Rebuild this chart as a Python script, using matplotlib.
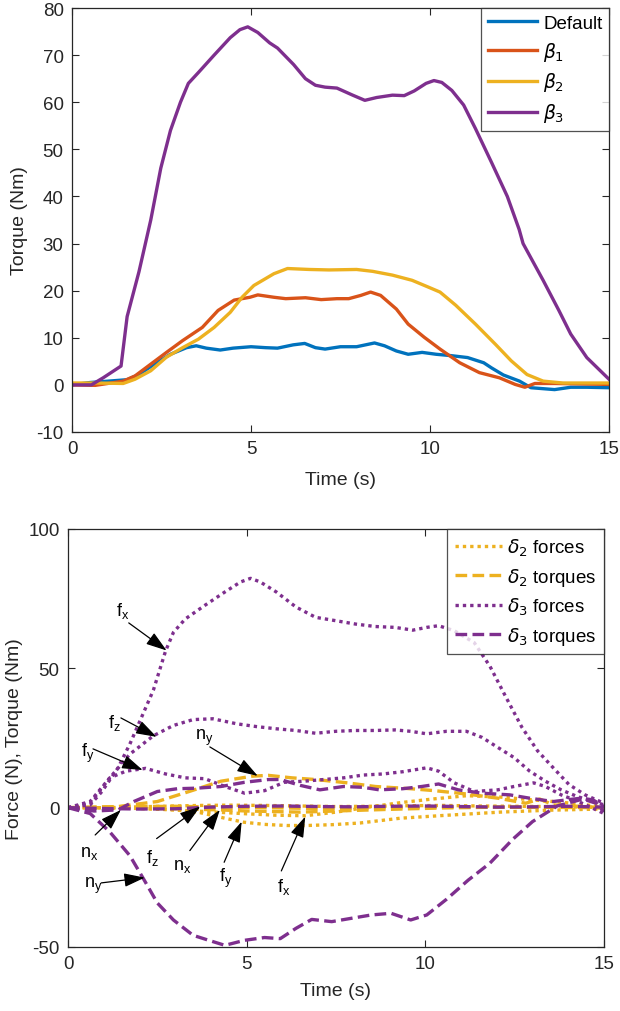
import numpy as np
import matplotlib
matplotlib.use("Agg")
import matplotlib.pyplot as plt

plt.rcParams['font.family'] = ['Liberation Sans', 'DejaVu Sans']
plt.rcParams['mathtext.fontset'] = 'dejavusans'
plt.rcParams['axes.unicode_minus'] = False

C_BLUE = '#0072BD'
C_RED = '#D95319'
C_YEL = '#EDB120'
C_PUR = '#7E2F8E'
TXT = '#262626'

# ---------------- top chart data ----------------
t_b3 = [0, 0.54, 0.87, 1.37, 1.54, 1.87, 2.2, 2.48, 2.75, 3.03, 3.25, 3.53, 3.97, 4.42, 4.69, 4.91,
        5.19, 5.52, 5.74, 6.19, 6.52, 6.8, 7.07, 7.4, 7.84, 8.18, 8.51, 8.95, 9.28, 9.56, 9.89,
        10.11, 10.33, 10.61, 10.94, 11.27, 11.72, 12.16, 12.49, 12.6, 13.16, 13.6, 13.93, 14.38, 15]
v_b3 = [0, 0, 1.5, 4, 14.5, 24, 35, 46, 54, 60, 64, 66.3, 70, 73.7, 75.4, 76,
        74.8, 72.6, 71.5, 68, 65, 63.6, 63.2, 63, 61.5, 60.4, 61, 61.5, 61.4, 62.4, 64,
        64.6, 64.2, 62.5, 59.4, 54.4, 47.2, 40, 33, 30, 22.2, 15.8, 10.8, 5.8, 1.2]

t_def = [0, 0.5, 1.54, 1.87, 2.3, 2.75, 3.2, 3.47, 3.75, 4.14, 4.5, 5.0, 5.41, 5.74, 6.18, 6.5,
         6.8, 7.07, 7.5, 7.95, 8.45, 8.73, 9.06, 9.39, 9.78, 10.17, 10.6, 11.05, 11.5, 11.72,
         12.05, 12.5, 12.82, 13.48, 13.93, 14.38, 15]
v_def = [0, 0.5, 1.1, 2.2, 4.4, 6.5, 7.9, 8.3, 7.8, 7.4, 7.8, 8.1, 7.9, 7.8, 8.5, 8.8,
         7.9, 7.6, 8.1, 8.1, 8.9, 8.3, 7.2, 6.5, 6.9, 6.5, 6.2, 5.8, 4.7, 3.6,
         2.1, 0.8, -0.6, -1.0, -0.5, -0.5, -0.6]

t_b1 = [0, 0.65, 1.43, 1.76, 2.2, 2.64, 3.09, 3.64, 4.08, 4.53, 4.97, 5.19, 5.64, 5.97, 6.52,
        6.96, 7.4, 7.73, 8.07, 8.34, 8.62, 9.06, 9.39, 9.84, 10.28, 10.83, 11.38, 11.94, 12.38,
        12.65, 12.93, 13.48, 15]
v_b1 = [0, -0.1, 0.8, 1.9, 4.4, 6.9, 9.4, 12.2, 15.8, 18, 18.6, 19.1, 18.6, 18.3, 18.5,
        18.1, 18.3, 18.3, 19, 19.7, 19, 16.1, 12.9, 10.1, 7.6, 4.7, 2.6, 1.5, 0.1,
        -0.5, 0.3, 0.3, 0.1]

t_b2 = [0, 0.65, 1.43, 1.76, 2.2, 2.64, 3.09, 3.53, 3.97, 4.42, 4.75, 5.08, 5.64, 6.02, 6.63,
        7.18, 7.95, 8.4, 8.95, 9.5, 9.94, 10.28, 10.72, 11.27, 11.83, 12.27, 12.71, 13.16,
        13.71, 15]
v_b2 = [0.4, 0.4, 0.3, 1.2, 3, 5.9, 7.9, 9.7, 12.2, 15.4, 18.6, 21.1, 23.6, 24.7, 24.5,
        24.4, 24.5, 24.1, 23.3, 22.2, 20.8, 19.7, 16.9, 12.9, 8.6, 5.1, 2.2, 0.8,
        0.4, 0.4]

top_labels = ['Default', r'$\beta_1$', r'$\beta_2$', r'$\beta_3$']

# ---------------- bottom chart data ----------------
# delta3 forces
t3_fx = [0, 0.62, 0.95, 1.4, 1.73, 2.06, 2.39, 2.73, 2.95, 3.28, 3.83, 4.39, 4.83, 5.11, 5.38,
         5.83, 6.38, 6.93, 7.49, 8.04, 8.6, 9.15, 9.65, 10.04, 10.37, 10.81, 11.37, 11.81,
         12.25, 12.7, 13.14, 13.58, 14.02, 14.47, 15]
v3_fx = [0, 1, 5.8, 14.3, 22.8, 32.5, 42.2, 56.2, 62.9, 67.7, 72.6, 77.4, 81, 82.3, 81,
         77.4, 72, 68.3, 67.1, 65.9, 65, 64.7, 63.7, 64.7, 65.3, 63.5, 59.2, 50.7,
         39.8, 28.9, 20.4, 14.3, 8.3, 4.6, 1.6]
t3_fz = [0, 0.62, 1.17, 1.73, 2.39, 2.95, 3.5, 4.05, 4.72, 5.27, 5.83, 6.38, 6.93, 7.49, 8.04,
         8.6, 9.15, 9.59, 10.04, 10.59, 11.15, 11.59, 12.03, 12.48, 12.92, 13.36, 13.8, 14.25, 15]
v3_fz = [0, 1.6, 10.7, 19.2, 25.8, 29.5, 31.6, 31.9, 30.1, 29.1, 28.3, 27.7, 26.7, 27.4, 27.7,
         27.7, 27.9, 27.4, 26.5, 27.4, 27.4, 25.2, 21.6, 18, 13.1, 9.5, 6.4, 4, 1]
t3_fy = [0, 0.62, 1.17, 1.62, 2.17, 2.73, 3.28, 3.83, 4.39, 4.94, 5.5, 6.05, 6.6, 7.16, 7.71,
         8.26, 8.82, 9.37, 10.04, 10.37, 10.81, 11.37, 12.03, 12.48, 13.03, 13.36, 13.8, 14.25, 15]
v3_fy = [0, 2.2, 10.7, 13.1, 14.1, 12.1, 10.7, 10.4, 7.6, 5.2, 6.1, 9.1, 9.5, 10.1, 10.7,
         11.7, 12.1, 12.9, 14.3, 13.1, 8.9, 5.8, 6.4, 7.6, 8.9, 7.6, 4.6, 2.4, -2.1]
# delta3 torques
t3_nx = [0, 0.73, 1.4, 1.84, 2.5, 3.06, 3.61, 4.28, 4.94, 5.61, 5.94, 6.5, 7.05, 7.71, 8.26,
         8.71, 9.37, 9.9, 10.37, 10.92, 11.59, 12.36, 12.92, 13.58, 14.02, 14.36, 14.69, 15]
v3_nx = [0, -1.2, -0.8, 2.2, 5.8, 6.8, 7, 7.6, 9.1, 10.1, 10.1, 8, 6.4, 7.6, 7.3,
         6.4, 6.8, 7.6, 8.5, 6.4, 5.2, 4.6, 3.4, 2.2, 2.9, 3.4, 2.8, 0.4]
t3_ny = [0, 0.62, 1.17, 1.73, 2.12, 2.5, 2.95, 3.5, 3.94, 4.39, 4.94, 5.5, 5.94, 6.38, 6.82,
         7.38, 7.93, 8.49, 9.04, 9.59, 10.04, 10.6, 11.2, 11.8, 12.45, 13.0, 13.69, 14.41, 14.8, 15]
v3_ny = [0, -2.1, -8.7, -17.2, -25.7, -34.2, -40.3, -45.8, -47.6, -49.4, -47.6, -46.6, -47, -43.3,
         -40.1, -40.9, -39.7, -38.5, -37.9, -40.3, -38.5, -32.8, -26, -20, -11.3, -5, 0.6, 3.1,
         1.5, -1.5]
t3_nz = [0, 1.0, 2.0, 3.0, 4.0, 5.0, 6.0, 7.0, 8.0, 9.0, 10.0, 11.0, 12.0, 13.0, 14.0, 15]
v3_nz = [0, -0.3, -0.5, -0.4, 0.2, 0.5, 0.6, 0.4, 0.3, 0.5, 0.6, 0.4, 0.2, 0.3, 0.5, 0.2]

# delta2 forces
t2_fx = [0, 1.0, 2.0, 3.0, 4.0, 5.0, 5.8, 6.64, 7.5, 8.36, 9.3, 10.2, 11.16, 12.1, 13.0, 13.77, 14.5, 15]
v2_fx = [0, 0, -0.3, -0.8, -1.5, -2.2, -2.7, -2.9, -1.6, 0.1, 1.8, 3.1, 4.3, 3.8, 2.8, 2.0, 1.0, 0.3]
t2_fy = [0, 1.0, 2.0, 3.0, 3.7, 4.25, 4.91, 5.5, 6.12, 6.68, 7.4, 8.17, 9.29, 10.5, 12.09, 13.5, 14.9, 15]
v2_fy = [0, 0, -0.2, -0.8, -1.8, -3.4, -5.2, -6.0, -6.4, -6.4, -6.1, -5.5, -3.8, -2.8, -1.6, -0.9, -0.5, -0.4]
t2_fz = [0, 1.0, 2.0, 3.0, 3.7, 4.5, 5.5, 6.5, 7.5, 8.5, 9.5, 10.5, 11.5, 12.5, 13.5, 14.5, 15]
v2_fz = [0, 0, 0.3, 0.6, 0.8, 0.9, 0.8, 0.6, 0.4, 0.5, 0.7, 0.8, 0.6, 0.5, 0.4, 0.2, 0]
# delta2 torques
t2_nx = [0, 1.0, 2.0, 3.0, 4.25, 5.0, 5.8, 6.49, 7.5, 8.5, 9.3, 10.5, 12.1, 13.5, 15]
v2_nx = [0, 0, -0.2, -0.4, -0.8, -1.2, -1.4, -1.6, -1.2, -0.8, -0.5, -0.1, 0.2, 0.1, 0]
t2_ny = [0, 1.4, 2.5, 3.39, 4.28, 5.16, 5.6, 6.27, 6.93, 7.82, 8.6, 9.59, 10.26, 11.16, 12.03,
         12.81, 13.2, 13.58, 15]
v2_ny = [0, 0.4, 2.2, 5.8, 9.5, 11.3, 11.6, 10.7, 10.1, 8.9, 7.6, 6.8, 6.1, 4.9, 3.4,
         1.6, 3.1, 1.0, 0]
t2_nz = [0, 1.0, 2.0, 3.0, 4.0, 5.0, 6.0, 7.0, 8.0, 9.0, 10.0, 11.0, 12.0, 13.0, 14.0, 15]
v2_nz = [0, 0.2, 0.4, 0.5, 0.3, 0.1, -0.1, -0.3, -0.2, 0.0, 0.2, 0.3, 0.2, 0.1, 0.2, 0]

bottom_labels = [r'$\delta_2$ forces', r'$\delta_2$ torques', r'$\delta_3$ forces', r'$\delta_3$ torques']

# annotations: base letter, subscript, text position, arrow start, arrow tip
ann_base = ['f', 'f', 'f', 'n', 'n', 'f', 'n', 'f', 'f', 'n']
ann_labels = ['x', 'z', 'y', 'y', 'x', 'z', 'x', 'y', 'x', 'y']
ann_text = [(1.54, 71.1), (1.31, 30.9), (0.54, 20.0), (3.81, 25.4), (0.59, -16.0),
            (2.37, -17.8), (3.2, -20.8), (4.42, -25.0), (6.03, -28.2), (0.7, -27.6)]
ann_from = [(1.7, 66.3), (1.48, 32.2), (0.7, 21.1), (3.97, 21.8), (0.76, -9.8),
            (2.48, -11.1), (3.41, -15.4), (4.37, -19.6), (5.97, -22.7), (0.93, -27.0)]
ann_tip = [(2.76, 56.4), (2.48, 25.4), (2.09, 13.5), (5.31, 11.4), (1.48, -0.8),
           (3.7, 0.4), (4.25, -0.8), (4.86, -5.0), (6.64, -3.2), (2.15, -25.1)]

fig = plt.figure(figsize=(6.2, 10.12), dpi=100)
W, H = 620.0, 1012.0
ax1 = fig.add_axes([72 / W, 1 - 433 / H, (609 - 72) / W, (433 - 9) / H])
ax2 = fig.add_axes([68 / W, 1 - 948 / H, (604 - 68) / W, (948 - 530) / H])

lw = 2.4
ax1.plot(t_def, v_def, color=C_BLUE, lw=lw, label=top_labels[0])
ax1.plot(t_b1, v_b1, color=C_RED, lw=lw, label=top_labels[1])
ax1.plot(t_b2, v_b2, color=C_YEL, lw=lw, label=top_labels[2])
ax1.plot(t_b3, v_b3, color=C_PUR, lw=lw, label=top_labels[3])
ax1.set_xlim(0, 15)
ax1.set_ylim(-10, 80)
ax1.set_xticks([0, 5, 10, 15])
ax1.set_yticks(np.arange(-10, 81, 10))
ax1.set_xlabel('Time (s)', fontsize=14, color=TXT, labelpad=10)
ax1.set_ylabel('Torque (Nm)', fontsize=14, color=TXT, labelpad=6)
leg1 = ax1.legend(loc='upper right', fontsize=13.5, frameon=True, fancybox=False,
                  edgecolor=TXT, handlelength=2.6, handletextpad=0.35, borderpad=0.35,
                  borderaxespad=0, labelspacing=0.42)
leg1.get_frame().set_linewidth(0.9)

dot = (0, (1, 1.2))
dash = (0, (3.5, 1.6))
lw2 = 2.4
ax2.plot(t2_fx, v2_fx, color=C_YEL, lw=lw2, ls=dot, label=bottom_labels[0])
ax2.plot(t2_fy, v2_fy, color=C_YEL, lw=lw2, ls=dot)
ax2.plot(t2_fz, v2_fz, color=C_YEL, lw=lw2, ls=dot)
ax2.plot(t2_nx, v2_nx, color=C_YEL, lw=lw2, ls=dash, label=bottom_labels[1])
ax2.plot(t2_ny, v2_ny, color=C_YEL, lw=lw2, ls=dash)
ax2.plot(t2_nz, v2_nz, color=C_YEL, lw=lw2, ls=dash)
ax2.plot(t3_fx, v3_fx, color=C_PUR, lw=lw2, ls=dot, label=bottom_labels[2])
ax2.plot(t3_fy, v3_fy, color=C_PUR, lw=lw2, ls=dot)
ax2.plot(t3_fz, v3_fz, color=C_PUR, lw=lw2, ls=dot)
ax2.plot(t3_nx, v3_nx, color=C_PUR, lw=lw2, ls=dash, label=bottom_labels[3])
ax2.plot(t3_ny, v3_ny, color=C_PUR, lw=lw2, ls=dash)
ax2.plot(t3_nz, v3_nz, color=C_PUR, lw=lw2, ls=dash)
ax2.set_xlim(0, 15)
ax2.set_ylim(-50, 100)
ax2.set_xticks([0, 5, 10, 15])
ax2.set_yticks([-50, 0, 50, 100])
ax2.set_xlabel('Time (s)', fontsize=14, color=TXT, labelpad=7)
ax2.set_ylabel('Force (N), Torque (Nm)', fontsize=14, color=TXT, labelpad=4)
leg2 = ax2.legend(loc='upper right', fontsize=13.5, frameon=True, fancybox=False,
                  edgecolor=TXT, handlelength=2.5, handletextpad=0.3, borderpad=0.4,
                  borderaxespad=0, labelspacing=0.42)
leg2.get_frame().set_linewidth(0.9)

for base, sub, txy, fxy, tip in zip(ann_base, ann_labels, ann_text, ann_from, ann_tip):
    ax2.text(txy[0], txy[1], base + r'$_\mathregular{' + sub + '}$', fontsize=13,
             ha='center', va='center', color='k')
    ax2.annotate('', xy=tip, xytext=fxy,
                 arrowprops=dict(arrowstyle='-|>,head_length=0.85,head_width=0.28',
                                 color='k', lw=0.9, shrinkA=0, shrinkB=0,
                                 mutation_scale=15))

for ax in (ax1, ax2):
    ax.tick_params(direction='in', length=5, width=0.8, top=True, right=True,
                   labelsize=13.5, colors=TXT, pad=6)
    for s in ax.spines.values():
        s.set_color(TXT)
        s.set_linewidth(0.9)

fig.savefig('out.png', dpi=100)
